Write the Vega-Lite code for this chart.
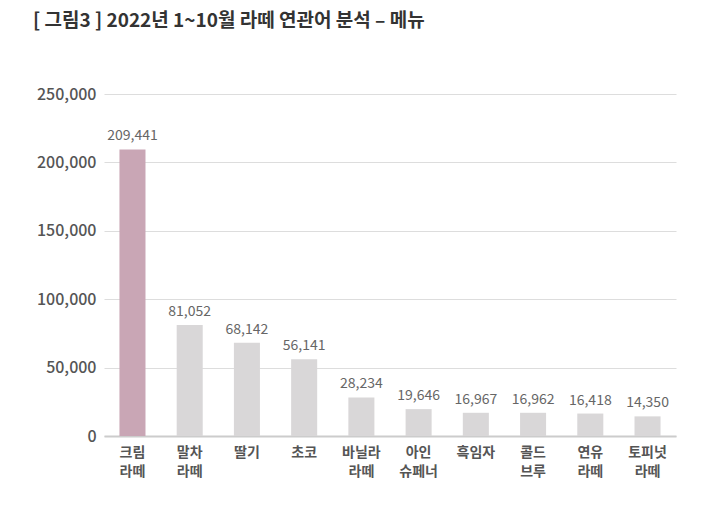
{
  "$schema": "https://vega.github.io/schema/vega-lite/v6.json",
  "width": 572,
  "height": 342,
  "autosize": {"type": "none"},
  "padding": {"left": 104, "top": 94, "right": 35, "bottom": 69},
  "background": "white",
  "config": {"font": "Noto Sans CJK KR", "view": {"stroke": null}},
  "title": {
    "text": "[ 그림3 ] 2022년 1~10월 라떼 연관어 분석 – 메뉴",
    "anchor": "start",
    "frame": "group",
    "dx": -71,
    "offset": 55,
    "fontSize": 19,
    "fontWeight": "bold",
    "color": "#333333",
    "font": "Noto Sans CJK KR"
  },
  "data": {
    "values": [
      {"menu": "크림 라떼", "count": 209441, "hi": "y"},
      {"menu": "말차 라떼", "count": 81052, "hi": "n"},
      {"menu": "딸기", "count": 68142, "hi": "n"},
      {"menu": "초코", "count": 56141, "hi": "n"},
      {"menu": "바닐라 라떼", "count": 28234, "hi": "n"},
      {"menu": "아인 슈페너", "count": 19646, "hi": "n"},
      {"menu": "흑임자", "count": 16967, "hi": "n"},
      {"menu": "콜드 브루", "count": 16962, "hi": "n"},
      {"menu": "연유 라떼", "count": 16418, "hi": "n"},
      {"menu": "토피넛 라떼", "count": 14350, "hi": "n"}
    ]
  },
  "encoding": {
    "x": {
      "field": "menu",
      "type": "nominal",
      "sort": null,
      "scale": {"paddingInner": 0.545, "paddingOuter": 0.27},
      "axis": {
        "title": null,
        "labelAngle": 0,
        "labelExpr": "split(datum.label, ' ')",
        "labelFontSize": 14,
        "labelFontWeight": "bold",
        "labelColor": "#555555",
        "labelLineHeight": 19,
        "labelPadding": 9,
        "ticks": false,
        "domainColor": "#cccccc",
        "domainWidth": 2
      }
    },
    "y": {
      "field": "count",
      "type": "quantitative",
      "scale": {"domain": [0, 250000]},
      "axis": {
        "title": null,
        "values": [0, 50000, 100000, 150000, 200000, 250000],
        "labelExpr": "format(datum.value, ',')",
        "labelOverlap": false,
        "domain": false,
        "ticks": false,
        "labelFontSize": 16,
        "labelFontWeight": 500,
        "labelColor": "#555555",
        "labelPadding": 8,
        "gridColor": "#dddddd",
        "gridWidth": 1
      }
    }
  },
  "layer": [
    {
      "mark": {"type": "bar"},
      "encoding": {
        "color": {
          "field": "hi",
          "type": "nominal",
          "scale": {"domain": ["y", "n"], "range": ["#c9a6b5", "#d9d7d8"]},
          "legend": null
        }
      }
    },
    {
      "mark": {"type": "text", "dy": -13, "fontSize": 14, "color": "#666666"},
      "encoding": {"text": {"field": "count", "type": "quantitative", "format": ","}}
    }
  ]
}
